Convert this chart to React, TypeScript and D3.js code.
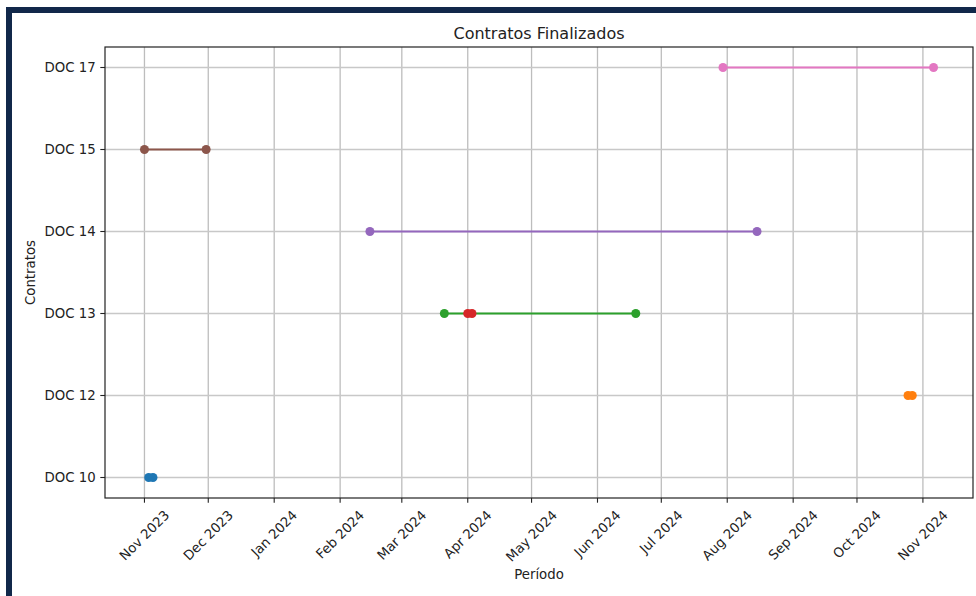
import React, { useEffect, useRef } from 'react';
import * as d3 from 'd3';

// contracts in plotting order (one segment each)
const contracts = ['DOC 10', 'DOC 12', 'DOC 13', 'DOC 13', 'DOC 14', 'DOC 15', 'DOC 17'];
const startDates = ['2023-11-03', '2024-10-25', '2024-03-21', '2024-04-01', '2024-02-15', '2023-11-01', '2024-07-30'];
const endDates = ['2023-11-05', '2024-10-27', '2024-06-19', '2024-04-03', '2024-08-15', '2023-11-30', '2024-11-06'];
const colors = ['#1f77b4', '#ff7f0e', '#2ca02c', '#d62728', '#9467bd', '#8c564b', '#e377c2'];

const W = 976;
const H = 596;
const FONT = '"DejaVu Sans", sans-serif';

const App: React.FC = () => {
  const svgRef = useRef<SVGSVGElement>(null);

  useEffect(() => {
    if (!svgRef.current) return;
    const svg = d3.select(svgRef.current);
    svg.selectAll('*').remove();

    const margin = { top: 47, right: 3, bottom: 98, left: 105 };
    const x0 = margin.left;
    const x1 = W - margin.right;
    const y0 = margin.top;
    const y1 = H - margin.bottom;

    const parse = d3.timeParse('%Y-%m-%d');
    const starts = startDates.map((d) => parse(d)!);
    const ends = endDates.map((d) => parse(d)!);

    const minT = d3.min(starts, (d) => +d)!;
    const maxT = d3.max(ends, (d) => +d)!;
    const pad = (maxT - minT) * 0.05;

    const xScale = d3
      .scaleTime()
      .domain([new Date(minT - pad), new Date(maxT + pad)])
      .range([x0, x1]);

    const cats: string[] = [];
    contracts.forEach((c) => {
      if (!cats.includes(c)) cats.push(c);
    });
    const yScale = d3.scalePoint<string>().domain(cats).range([y1, y0]).padding(0.25);

    // frame of the screenshot
    svg
      .append('rect')
      .attr('x', 9)
      .attr('y', 10)
      .attr('width', W + 20)
      .attr('height', H + 20)
      .attr('fill', 'none')
      .attr('stroke', '#11284a')
      .attr('stroke-width', 6);

    const ticks = xScale.ticks(d3.timeMonth.every(1)!);
    const grid = svg.append('g');
    ticks.forEach((t) => {
      grid
        .append('line')
        .attr('x1', xScale(t))
        .attr('x2', xScale(t))
        .attr('y1', y0)
        .attr('y2', y1)
        .attr('stroke', '#bdbdbd')
        .attr('stroke-width', 1.3);
    });
    cats.forEach((c) => {
      grid
        .append('line')
        .attr('x1', x0)
        .attr('x2', x1)
        .attr('y1', yScale(c)!)
        .attr('y2', yScale(c)!)
        .attr('stroke', '#c8c8c8')
        .attr('stroke-width', 1.3);
    });

    // segments
    contracts.forEach((c, i) => {
      const g = svg.append('g');
      const y = yScale(c)!;
      g.append('line')
        .attr('x1', xScale(starts[i]))
        .attr('x2', xScale(ends[i]))
        .attr('y1', y)
        .attr('y2', y)
        .attr('stroke', colors[i])
        .attr('stroke-width', 2);
      [starts[i], ends[i]].forEach((d) => {
        g.append('circle')
          .attr('cx', xScale(d))
          .attr('cy', y)
          .attr('r', 4.5)
          .attr('fill', colors[i]);
      });
    });

    // spines
    svg
      .append('rect')
      .attr('x', x0)
      .attr('y', y0)
      .attr('width', x1 - x0)
      .attr('height', y1 - y0)
      .attr('fill', 'none')
      .attr('stroke', '#222')
      .attr('stroke-width', 1.2);

    const fmt = d3.timeFormat('%b %Y');
    const fs = 13.3;
    ticks.forEach((t) => {
      const x = xScale(t);
      svg
        .append('line')
        .attr('x1', x)
        .attr('x2', x)
        .attr('y1', y1)
        .attr('y2', y1 + 4.7)
        .attr('stroke', '#222')
        .attr('stroke-width', 1.1);
      const txt = svg
        .append('text')
        .attr('font-family', FONT)
        .attr('font-size', fs)
        .attr('fill', '#222')
        .attr('text-anchor', 'middle')
        .attr('dominant-baseline', 'central')
        .text(fmt(t));
      const w = (txt.node() as SVGTextElement).getComputedTextLength();
      const h = fs * 1.16;
      const bh = (w + h) * Math.SQRT1_2;
      const cy = y1 + 9.4 + bh / 2;
      txt.attr('x', x).attr('y', cy).attr('transform', `rotate(-45, ${x}, ${cy})`);
    });

    cats.forEach((c) => {
      const y = yScale(c)!;
      svg
        .append('line')
        .attr('x1', x0 - 4.7)
        .attr('x2', x0)
        .attr('y1', y)
        .attr('y2', y)
        .attr('stroke', '#222')
        .attr('stroke-width', 1.1);
      svg
        .append('text')
        .attr('x', x0 - 9.4)
        .attr('y', y)
        .attr('font-family', FONT)
        .attr('font-size', fs)
        .attr('fill', '#222')
        .attr('text-anchor', 'end')
        .attr('dominant-baseline', 'central')
        .text(c);
    });

    svg
      .append('text')
      .attr('x', (x0 + x1) / 2)
      .attr('y', y0 - 8)
      .attr('font-family', FONT)
      .attr('font-size', 16)
      .attr('fill', '#222')
      .attr('text-anchor', 'middle')
      .text('Contratos Finalizados');

    svg
      .append('text')
      .attr('x', (x0 + x1) / 2)
      .attr('y', 579)
      .attr('font-family', FONT)
      .attr('font-size', fs)
      .attr('fill', '#222')
      .attr('text-anchor', 'middle')
      .text('Período');

    const ly = (y0 + y1) / 2;
    svg
      .append('text')
      .attr('x', 35)
      .attr('y', ly)
      .attr('font-family', FONT)
      .attr('font-size', fs)
      .attr('fill', '#222')
      .attr('text-anchor', 'middle')
      .attr('transform', `rotate(-90, 35, ${ly})`)
      .text('Contratos');
  }, []);

  return (
    <svg
      ref={svgRef}
      width={W}
      height={H}
      style={{ position: 'absolute', left: 0, top: 0, background: '#fff' }}
    />
  );
};

export default App;
